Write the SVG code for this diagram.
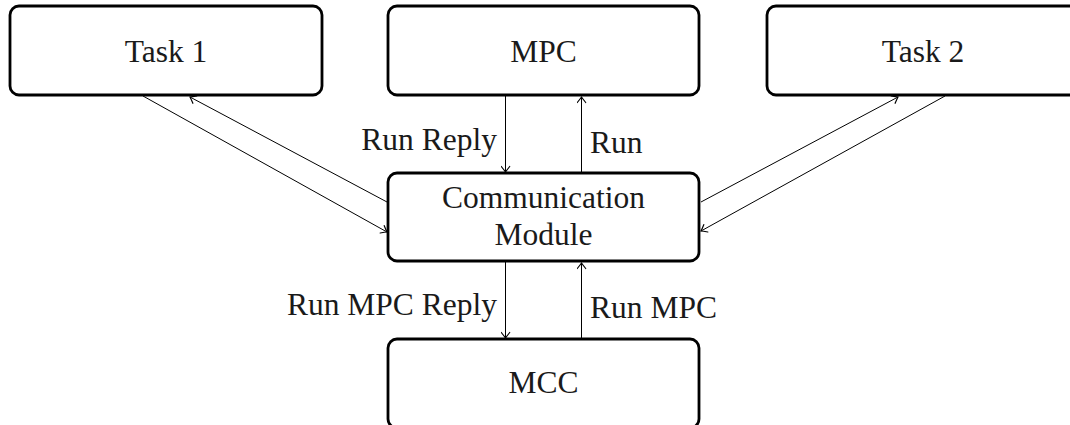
<svg xmlns="http://www.w3.org/2000/svg" width="1070" height="425" viewBox="0 0 1070 425">
<style>
.box{fill:#fff;stroke:#000;stroke-width:2.8}
.t{font-family:"Liberation Serif","Times New Roman",serif;font-size:31.5px;fill:#1a1a1a}
.c{stroke:#000;stroke-width:1;fill:none;marker-end:url(#ah)}
</style>
<defs>
<marker id="ah" viewBox="-7 -5 9 10" markerWidth="9" markerHeight="10" refX="0" refY="0" orient="auto" markerUnits="userSpaceOnUse">
<path d="M-5.5,-4.2 Q-1.5,-1 0,0 Q-1.5,1 -5.5,4.2" fill="none" stroke="#000" stroke-width="1.2" stroke-linecap="round"/>
</marker>
</defs>
<rect width="1070" height="425" fill="#fff"/>
<g id="connectors">
<line class="c" x1="505.5" y1="96" x2="505.5" y2="172"/>
<line class="c" x1="581.5" y1="173" x2="581.5" y2="97"/>
<line class="c" x1="505.5" y1="262" x2="505.5" y2="338"/>
<line class="c" x1="581.5" y1="339" x2="581.5" y2="263"/>
<line class="c" x1="143" y1="96" x2="387" y2="232"/>
<line class="c" x1="387" y1="202" x2="190" y2="97"/>
<line class="c" x1="701" y1="202" x2="898" y2="97"/>
<line class="c" x1="945" y1="96" x2="701" y2="231"/>
<text class="t" x="497" y="150" text-anchor="end">Run Reply</text>
<text class="t" x="590" y="153">Run</text>
<text class="t" x="497" y="315" text-anchor="end">Run MPC Reply</text>
<text class="t" x="590" y="318">Run MPC</text>
</g>
<g id="task1">
<rect class="box" x="10" y="6" width="312" height="89" rx="9"/>
<text class="t" x="166" y="61.5" text-anchor="middle">Task 1</text>
</g>
<g id="mpc">
<rect class="box" x="388" y="6" width="311" height="89" rx="9"/>
<text class="t" x="543.5" y="61.5" text-anchor="middle">MPC</text>
</g>
<g id="task2">
<rect class="box" x="767" y="6" width="312" height="89" rx="9"/>
<text class="t" x="923" y="61.5" text-anchor="middle">Task 2</text>
</g>
<g id="comm">
<rect class="box" x="388" y="173" width="311" height="88" rx="9"/>
<text class="t" x="543.5" y="208" text-anchor="middle">Communication</text>
<text class="t" x="543.5" y="245" text-anchor="middle">Module</text>
</g>
<g id="mcc">
<rect class="box" x="388" y="339" width="311" height="89" rx="9"/>
<text class="t" x="543.5" y="393" text-anchor="middle">MCC</text>
</g>
</svg>
